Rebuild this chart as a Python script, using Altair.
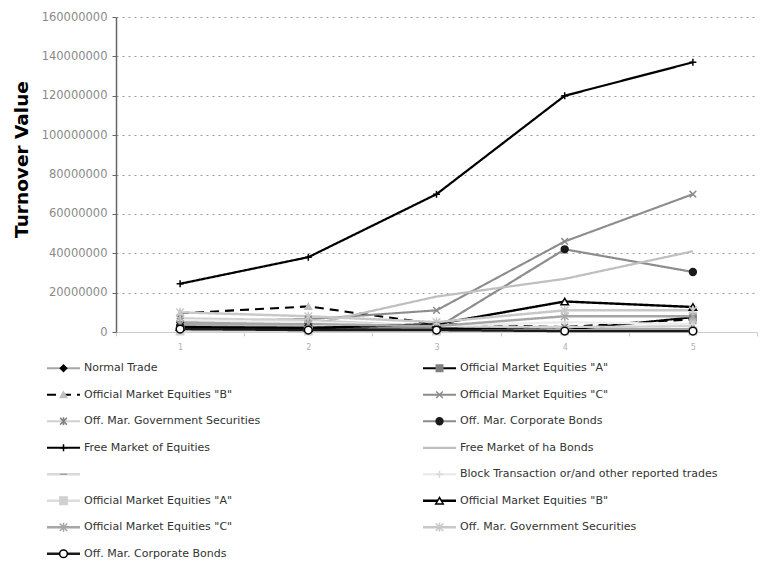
import altair as alt
import pandas as pd

# ---------------- data ----------------
categories = ["1", "2", "3", "4", "5"]

series_labels = [
    "Normal Trade",
    'Official Market Equities "A"',
    'Official Market Equities "B"',
    'Official Market Equities "C"',
    "Off. Mar. Government Securities",
    "Off. Mar. Corporate Bonds",
    "Free Market of Equities",
    "Free Market of ha Bonds",
    "",
    "Block Transaction or/and other reported trades",
    'Official Market Equities "A"',
    'Official Market Equities "B"',
    'Official Market Equities "C"',
    "Off. Mar. Government Securities",
    "Off. Mar. Corporate Bonds",
]

normal_trade = [5000000, 4500000, 3000000, 2000000, 1500000]
ome_a = [2000000, 1500000, 2000000, 1000000, 7500000]
ome_b = [9500000, 13000000, 4000000, 2500000, 6500000]
ome_c = [5500000, 6500000, 11000000, 46000000, 70000000]
gov_sec = [7000000, 6000000, 3000000, 2500000, 3000000]
corp_bonds = [3000000, 2500000, 2000000, 42000000, 30500000]
free_equities = [24500000, 38000000, 70000000, 120000000, 137000000]
free_bonds = [4000000, 3500000, 18000000, 27000000, 41000000]
blank_series = [1000000, 1000000, 1000000, 1000000, 1000000]
block_trades = [6000000, 5000000, 3000000, 5000000, 4000000]
ome_a2 = [500000, 500000, 500000, 500000, 500000]
ome_b2 = [2500000, 2000000, 4000000, 15500000, 12700000]
ome_c2 = [4000000, 4000000, 3000000, 8000000, 8000000]
gov_sec2 = [10000000, 8000000, 5000000, 11000000, 11000000]
corp_bonds2 = [1500000, 1000000, 1000000, 500000, 500000]

series_values = [normal_trade, ome_a, ome_b, ome_c, gov_sec, corp_bonds,
                 free_equities, free_bonds, blank_series, block_trades,
                 ome_a2, ome_b2, ome_c2, gov_sec2, corp_bonds2]

# ---------------- styles ----------------
X_PATH = "M-1,-1L1,1M-1,1L1,-1"
PLUS_PATH = "M-1,0H1M0,-1V1"
STAR_PATH = "M-1,-1L1,1M-1,1L1,-1M0,-1.2V1.2"
DASH_PATH = "M-1,0H1"

line_colors = ["#a6a6a6", "#000000", "#000000", "#8c8c8c", "#d0d0d0", "#8c8c8c",
               "#000000", "#bfbfbf", "#d9d9d9", "#ececec", "#dcdcdc", "#000000",
               "#a6a6a6", "#c8c8c8", "#1a1a1a"]
line_widths = [2, 2.5, 2.5, 2.5, 2, 2.5, 3.5, 3, 2, 2, 2, 2.5, 2, 2.5, 2]
line_dashes = [[1, 0], [1, 0], [9, 6], [1, 0], [1, 0], [1, 0], [1, 0], [1, 0],
               [1, 0], [1, 0], [1, 0], [1, 0], [1, 0], [1, 0], [1, 0]]
marker_shapes = ["diamond", "square", "triangle-up", X_PATH, STAR_PATH, "circle",
                 PLUS_PATH, "circle", DASH_PATH, PLUS_PATH, "square", "triangle-up",
                 STAR_PATH, STAR_PATH, "circle"]
marker_fills = ["#000000", "#808080", "#bfbfbf", "transparent", "transparent", "#1a1a1a",
                "transparent", "transparent", "transparent", "transparent", "#d0d0d0",
                "#ffffff", "transparent", "transparent", "#ffffff"]
marker_strokes = ["#000000", "#808080", "#bfbfbf", "#8c8c8c", "#808080", "#1a1a1a",
                  "#000000", "transparent", "#a6a6a6", "#d9d9d9", "#d0d0d0",
                  "#000000", "#a6a6a6", "#c8c8c8", "#000000"]
marker_sizes = [40, 60, 40, 110, 50, 120, 130, 0, 40, 60, 40, 35, 60, 70, 45]

# ---------------- tables ----------------
sids = [f"s{i:02d}" for i in range(len(series_labels))]
rows = []
for sid, lab, vals in zip(sids, series_labels, series_values):
    for c, v in zip(categories, vals):
        rows.append({"sid": sid, "label": lab, "cat": c, "value": v})
df = pd.DataFrame(rows)

leg = pd.DataFrame({
    "sid": sids,
    "label": series_labels,
    "row": [i // 2 for i in range(len(sids))],
    "col": [i % 2 for i in range(len(sids))],
})

FONT = "DejaVu Sans"

stroke_enc = alt.Stroke("sid:N", scale=alt.Scale(domain=sids, range=line_colors), legend=None)
dash_enc = alt.StrokeDash("sid:N", scale=alt.Scale(domain=sids, range=line_dashes), legend=None)
width_enc = alt.StrokeWidth("sid:N", scale=alt.Scale(domain=sids, range=line_widths), legend=None)
shape_enc = alt.Shape("sid:N", scale=alt.Scale(domain=sids, range=marker_shapes), legend=None)
fill_enc = alt.Fill("sid:N", scale=alt.Scale(domain=sids, range=marker_fills), legend=None)
mcolor_enc = alt.Color("sid:N", scale=alt.Scale(domain=sids, range=marker_strokes), legend=None)
size_enc = alt.Size("sid:N", scale=alt.Scale(domain=sids, range=marker_sizes), legend=None)

x_enc = alt.X(
    "cat:O", sort=categories, bandPosition=0.5,
    scale=alt.Scale(type="band", paddingInner=0, paddingOuter=0),
    axis=alt.Axis(title=None, labelAngle=0, tickBand="extent", labelColor="#b0b0b0",
                  labelFontSize=8, labelFont=FONT, tickColor="#cccccc", tickSize=4,
                  domainColor="#cccccc", labelPadding=7, grid=False),
)
y_enc = alt.Y(
    "value:Q",
    scale=alt.Scale(domain=[0, 160000000]),
    axis=alt.Axis(title="Turnover Value", format="d",
                  values=list(range(0, 160000001, 20000000)),
                  labelColor="#8a8a8a", labelFontSize=11.5, labelFont=FONT,
                  labelPadding=5,
                  tickColor="#666666", tickSize=4, domainColor="#666666",
                  domainWidth=1.5,
                  gridColor="#9a9a9a", gridDash=[2, 4], gridWidth=1,
                  titleFont=FONT, titleFontSize=18.5, titleFontWeight="bold",
                  titleColor="#000000", titleX=-95, titleY=142, titleAngle=270,
                  titleBaseline="middle"),
)

no_border = alt.ViewBackground(stroke="transparent", strokeWidth=0)

base = alt.Chart(df)
lines = base.mark_line().encode(
    x=x_enc, y=y_enc, stroke=stroke_enc, strokeDash=dash_enc, strokeWidth=width_enc,
    detail="sid:N",
)
points = base.mark_point(opacity=1, strokeWidth=1.5).encode(
    x=x_enc, y=y_enc, shape=shape_enc, fill=fill_enc, color=mcolor_enc, size=size_enc,
)
main = alt.layer(lines, points).properties(width=641, height=315, view=no_border)

# ---------------- legend block ----------------
lx = alt.X("col:Q", scale=alt.Scale(domain=[0, 1], range=[-69, 307]), axis=None)
ly = alt.Y("row:O", scale=alt.Scale(type="point", padding=0.5), axis=None)
lbase = alt.Chart(leg)
l_rule = lbase.mark_rule(x2Offset=33).encode(
    x=lx, x2=alt.X2("col:Q"), y=ly, stroke=stroke_enc, strokeDash=dash_enc,
    strokeWidth=width_enc,
)
l_pt = lbase.mark_point(xOffset=16.5, opacity=1, strokeWidth=1.5).encode(
    x=lx, y=ly, shape=shape_enc, fill=fill_enc, color=mcolor_enc, size=size_enc,
)
l_txt = lbase.mark_text(dx=37, align="left", baseline="middle", font=FONT,
                        fontSize=11, color="#333333").encode(
    x=lx, y=ly, text="label:N",
)
legend = alt.layer(l_rule, l_pt, l_txt).properties(width=641, height=212, view=no_border)

chart = (
    alt.vconcat(main, legend, spacing=4)
    .resolve_scale(x="independent", y="independent")
    .properties(padding={"left": 4, "top": 3, "right": 0, "bottom": 0})
    .configure_view(stroke="transparent", strokeWidth=0)
    .configure(background="white")
)

chart.save("out.html", embed_options={"renderer": "svg", "actions": False})
